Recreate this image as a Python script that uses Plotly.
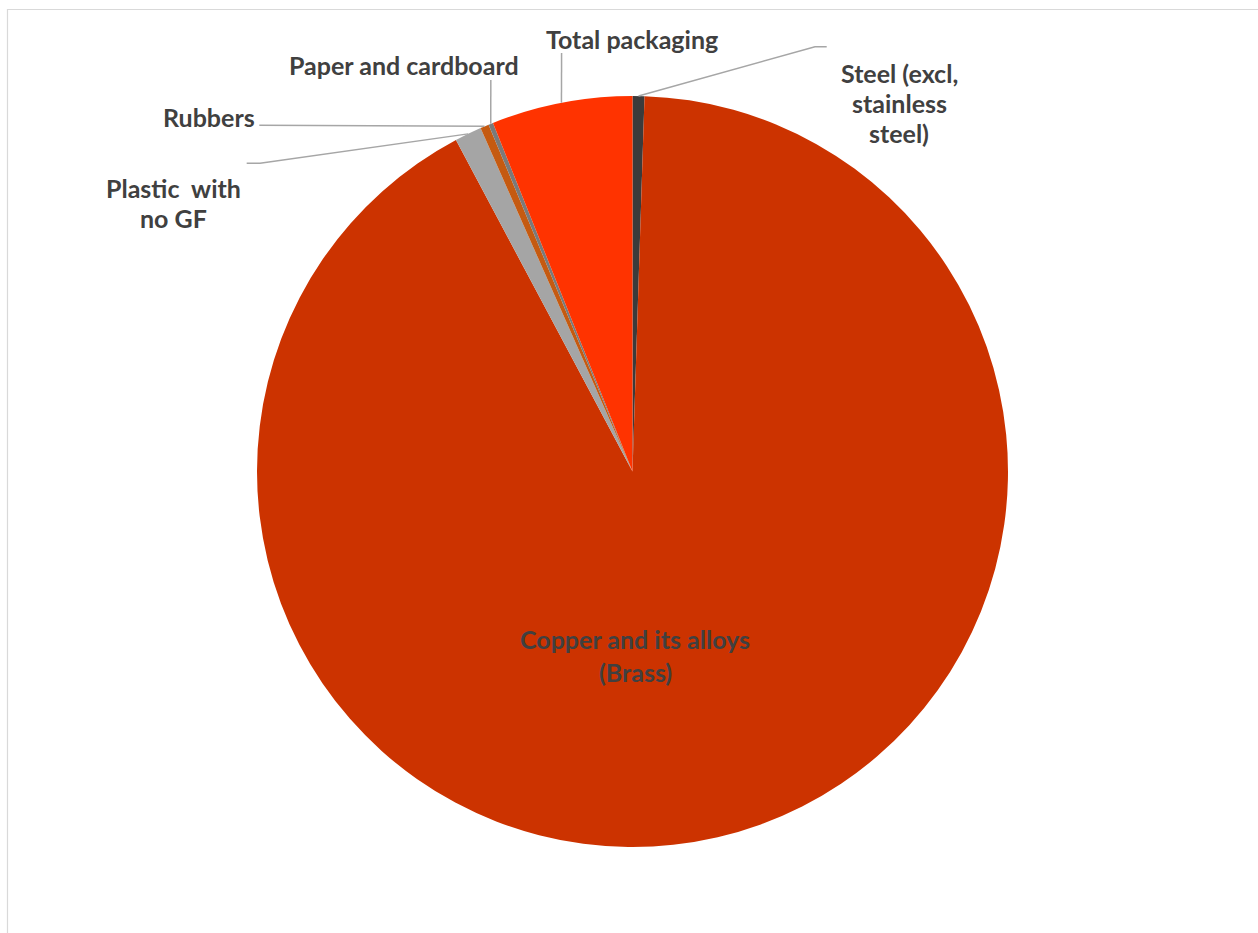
import math
import plotly.graph_objects as go

# ---- data ----
labels = ["Steel (excl, stainless steel)", "Copper and its alloys (Brass)",
          "Plastic  with no GF", "Rubbers", "Paper and cardboard", "Total packaging"]
label_lines = [["Steel (excl,", "stainless", "steel)"], ["Copper and its alloys", "(Brass)"],
               ["Plastic  with", "no GF"], ["Rubbers"], ["Paper and cardboard"], ["Total packaging"]]
values = [0.51, 91.70, 1.16, 0.37, 0.20, 6.06]
colors = ["#3B3B3B", "#CC3300", "#A5A5A5", "#C55A11", "#7A7A7A", "#FF3300"]

W, H = 1258, 933
CX, CY, R = 632.5, 471.5, 375.5

fig = go.Figure(go.Pie(
    labels=labels, values=values, sort=False, direction="clockwise", rotation=0,
    marker=dict(colors=colors, line=dict(width=0)),
    textinfo="none", hoverinfo="label+value", showlegend=False,
    domain=dict(x=[(CX - R) / W, (CX + R) / W], y=[1 - (CY + R) / H, 1 - (CY - R) / H]),
))

def px(x, y):
    return x / W, 1 - y / H

# slice mid-point on the rim (pixel coords) from data
total = sum(values)
rim = []
cum = 0
for v in values:
    th = math.radians((cum + v / 2) / total * 360)
    rim.append((CX + R * math.sin(th), CY - R * math.cos(th)))
    cum += v

font = dict(family="Lato, 'Open Sans', sans-serif", size=25, color="#404040")
# label line positions (pixel centres)
label_pos = {
    0: [(899, 73), (899, 103), (899, 133)],
    1: [(635, 639), (635, 672)],
    2: [(173, 188), (173, 218)],
    3: [(209, 117)],
    4: [(404, 65)],
    5: [(632, 39)],
}
elbows = {
    0: [(826.7, 46.7), (815, 46.7)],
    2: [(246.7, 163.3), (260, 163.3)],
    3: [(259.3, 125.3)],
    4: [(490.8, 80)],
    5: [(561.6, 53)],
}

shapes = []
for i, pts in elbows.items():
    path_pts = pts + [rim[i]]
    d = "M " + " L ".join(f"{px(x, y)[0]:.5f},{px(x, y)[1]:.5f}" for x, y in path_pts)
    shapes.append(dict(type="path", xref="paper", yref="paper", path=d,
                       line=dict(color="#A6A6A6", width=1.5)))

# outer border of chart area
shapes.append(dict(type="rect", xref="paper", yref="paper",
                   x0=7.5 / W, x1=1.02, y0=-0.02, y1=1 - 9.5 / H,
                   line=dict(color="#D9D9D9", width=1.2), fillcolor="rgba(0,0,0,0)"))

annotations = []
for i, plist in label_pos.items():
    for line, (x, y) in zip(label_lines[i], plist):
        ax, ay = px(x, y)
        annotations.append(dict(x=ax, y=ay, xref="paper", yref="paper", text=f"<b>{line}</b>",
                                showarrow=False, font=font, align="center",
                                xanchor="center", yanchor="middle"))

fig.update_layout(width=W, height=H, margin=dict(l=0, r=0, t=0, b=0),
                  paper_bgcolor="white", plot_bgcolor="white",
                  shapes=shapes, annotations=annotations)
fig.write_html("out.html", config={"displayModeBar": False},
               post_script="document.body.style.margin='0';document.body.style.overflow='hidden';")
